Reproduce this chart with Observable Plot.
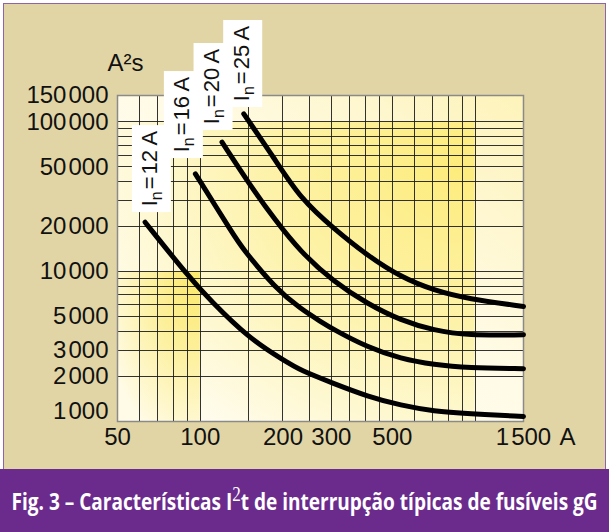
<!DOCTYPE html>
<html>
<head>
<meta charset="utf-8">
<script src="https://cdn.jsdelivr.net/npm/d3@7"></script>
<script src="https://cdn.jsdelivr.net/npm/@observablehq/plot@0.6"></script>
<style>
  html, body { margin: 0; padding: 0; background: #fff; }
  #page { position: relative; width: 609px; height: 532px; overflow: hidden; background: #fff; }
  #panel { position: absolute; left: 3px; top: 3px; width: 601px; height: 465px; background: #e2d5a5; border: 1px solid #8e64a8; border-bottom: none; }
  #chart { position: absolute; left: 0; top: 0; }
  #caption { position: absolute; left: 0; top: 469px; width: 609px; height: 63px; background: #6b2b8c; color: #fff;
             display: flex; align-items: center; justify-content: center; overflow: hidden; }
  #caption .t { font-family: "Open Sans", "Noto Sans", sans-serif; font-weight: 700; font-size: 24px; white-space: nowrap;
                display: inline-block; transform-origin: center; }
  #caption .sq { font-family: "Liberation Serif", "DejaVu Serif", serif; font-weight: 400; font-size: 0.9em; position: relative; top: -0.42em; }
</style>
</head>
<body>
<div id="page">
  <div id="panel"></div>
  <div id="chart"></div>
  <div id="caption"><span class="t">Fig. 3 – Características I<span class="sq">2</span>t de interrupção típicas de fusíveis gG</span></div>
</div>
<script>
// Typical I²t breaking characteristics of gG fuses (prospective current in A, I²t in A²s)
const ratings = ["12", "16", "20", "25"];

const current12 = [63, 91, 109, 149, 202, 232, 307, 406, 537, 710, 940, 1500];
const energy12  = [21400, 9190, 6420, 3640, 2550, 2190, 1790, 1470, 1280, 1170, 1130, 1080];

const current16 = [96, 133, 142, 188, 232, 274, 307, 406, 537, 710, 940, 1500];
const energy16  = [45000, 17300, 14400, 7700, 5650, 4650, 4090, 3130, 2620, 2390, 2280, 2250];

const current20 = [120, 153, 186, 232, 307, 406, 537, 710, 940, 1500];
const energy20  = [73200, 37000, 22500, 13500, 8510, 6100, 4720, 4050, 3750, 3790];

const current25 = [144, 186, 232, 307, 406, 537, 710, 940, 1500];
const energy25  = [113200, 57000, 30600, 19300, 12800, 9190, 7490, 6590, 5860];

// label anchor (bottom centre of each white tag), in axis units
const labelCurrent = [66.7, 87.2, 111.8, 143.3];
const labelEnergy  = [24800, 56900, 87600, 124700];

// axis ranges, grid and tick values
const currentDomain = [50, 1500];
const energyDomain  = [1000, 150000];
const currentGrid = [60, 70, 80, 90, 100, 150, 200, 250, 300, 350, 400, 450, 500, 600, 700, 800, 900, 1000];
const energyGrid  = [2000, 3000, 4000, 5000, 6000, 7000, 8000, 9000, 10000,
                     20000, 30000, 40000, 50000, 60000, 70000, 80000, 90000, 100000];
const currentTicks = [50, 100, 200, 300, 500, 1500];
const energyTicks  = [2000, 3000, 5000, 10000, 20000, 50000, 100000, 150000];

// shaded zones [from, to] on each axis
const wideZoneCurrent = [50, 1000], wideZoneEnergy = [1000, 100000];
const lowZoneCurrent  = [50, 100],  lowZoneEnergy  = [1000, 10000];

const series = [
  {rating: ratings[0], current: current12, energy: energy12},
  {rating: ratings[1], current: current16, energy: energy16},
  {rating: ratings[2], current: current20, energy: energy20},
  {rating: ratings[3], current: current25, energy: energy25}
];
const rows = series.flatMap(s => s.current.map((a, i) => ({rating: s.rating, current: a, energy: s.energy[i]})));

const HAIR = "\u200A";
const THIN = "\u2009";
const fmt = v => v >= 1000 ? String(v).replace(/(\d)(?=(\d{3})+$)/g, "$1" + HAIR) : String(v);

// gradient definitions used by the paper and the yellow zones
function gradients() {
  const defs = d3.create("svg:defs");
  const paper = defs.append("linearGradient").attr("id", "paperGrad")
    .attr("x1", 0).attr("y1", 1).attr("x2", 1).attr("y2", 0);
  paper.append("stop").attr("offset", 0).attr("stop-color", "#fffefa");
  paper.append("stop").attr("offset", 0.55).attr("stop-color", "#fffbe6");
  paper.append("stop").attr("offset", 1).attr("stop-color", "#fdf3ba");

  const wide = defs.append("radialGradient").attr("id", "wideGrad")
    .attr("cx", 0.95).attr("cy", 0.15).attr("r", 1.15);
  wide.append("stop").attr("offset", 0).attr("stop-color", "#fdec7c");
  wide.append("stop").attr("offset", 0.45).attr("stop-color", "#fdf2a8");
  wide.append("stop").attr("offset", 1).attr("stop-color", "#fffdf4");

  const low = defs.append("radialGradient").attr("id", "lowGrad")
    .attr("cx", 0.95).attr("cy", 0.05).attr("r", 1.15);
  low.append("stop").attr("offset", 0).attr("stop-color", "#fbe96c");
  low.append("stop").attr("offset", 0.5).attr("stop-color", "#fdf1a4");
  low.append("stop").attr("offset", 1).attr("stop-color", "#fffbe6");
  return defs.node();
}

// white tags with rotated "In = xx A" labels
function ratingTags(index, scales) {
  const g = d3.create("svg:g");
  const w = 39, h = 87;
  ratings.forEach((r, i) => {
    const cx = scales.x(labelCurrent[i]);
    const by = scales.y(labelEnergy[i]);
    g.append("rect").attr("x", cx - w / 2).attr("y", by - h).attr("width", w).attr("height", h).attr("fill", "#fff");
    const t = g.append("text")
      .attr("transform", `translate(${cx + 6},${by - h / 2}) rotate(-90)`)
      .attr("text-anchor", "middle")
      .attr("font-size", 22)
      .attr("fill", "#111");
    t.append("tspan").text("I");
    t.append("tspan").attr("font-size", 16).attr("dy", 5).text("n");
    t.append("tspan").attr("dy", -5).attr("dx", 2).text("=");
    t.append("tspan").attr("dx", 2).text(r + THIN + "A");
  });
  return g.node();
}

const gridStyle = {stroke: "#1c1c1c", strokeWidth: 1, strokeOpacity: 0.9, shapeRendering: "crispEdges"};
const font = 24;

const chart = Plot.plot({
  width: 609,
  height: 469,
  marginLeft: 117,
  marginRight: 86,
  marginTop: 95,
  marginBottom: 48,
  style: {background: "transparent", fontFamily: "'Liberation Sans', Arial, Helvetica, sans-serif", color: "#111"},
  x: {type: "log", domain: currentDomain, axis: null},
  y: {type: "log", domain: energyDomain, axis: null},
  marks: [
    gradients,
    Plot.frame({fill: "url(#paperGrad)", stroke: null}),
    Plot.rect([{}], {x1: wideZoneCurrent[0], x2: wideZoneCurrent[1], y1: wideZoneEnergy[0], y2: wideZoneEnergy[1], fill: "url(#wideGrad)"}),
    Plot.rect([{}], {x1: lowZoneCurrent[0], x2: lowZoneCurrent[1], y1: lowZoneEnergy[0], y2: lowZoneEnergy[1], fill: "url(#lowGrad)"}),
    Plot.ruleX(currentGrid, gridStyle),
    Plot.ruleY(energyGrid, gridStyle),
    Plot.frame({stroke: "#8a8a8a", strokeWidth: 1.5}),
    Plot.line(rows, {x: "current", y: "energy", z: "rating", stroke: "#000", strokeWidth: 5, curve: "basis"}),
    ratingTags,
    // y tick labels
    Plot.text(energyTicks, {y: d => d, frameAnchor: "left", dx: -9, textAnchor: "end", lineAnchor: "middle", text: fmt, fontSize: font}),
    Plot.text([energyDomain[0]], {y: d => d, frameAnchor: "left", dx: -9, dy: -10, textAnchor: "end", lineAnchor: "middle", text: fmt, fontSize: font}),
    // x tick labels and unit
    Plot.text(currentTicks, {x: d => d, frameAnchor: "bottom", dy: 16, textAnchor: "middle", lineAnchor: "middle", text: fmt, fontSize: font}),
    Plot.text(["A"], {frameAnchor: "bottom-right", dx: 44, dy: 16, textAnchor: "middle", lineAnchor: "middle", fontSize: font}),
    // y unit
    Plot.text(["A²s"], {frameAnchor: "top-left", dx: 8, dy: -32, textAnchor: "middle", lineAnchor: "middle", fontSize: font})
  ]
});

document.getElementById("chart").appendChild(chart);

// fit the caption to the bar width
const cap = document.querySelector("#caption .t");
const capWidth = cap.getBoundingClientRect().width;
cap.style.transform = `scaleX(${(586 / capWidth).toFixed(4)})`;
</script>
</body>
</html>
